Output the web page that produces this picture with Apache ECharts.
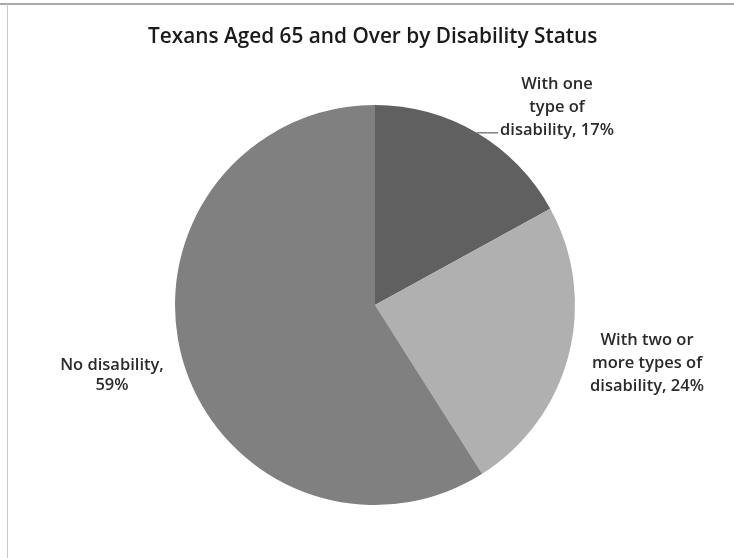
<!DOCTYPE html>
<html>
<head>
<meta charset="utf-8">
<script src="https://cdn.jsdelivr.net/npm/echarts@6/dist/echarts.min.js"></script>
<style>
html,body{margin:0;padding:0;background:#fff;}
#chart{width:734px;height:558px;}
</style>
</head>
<body>
<div id="chart"></div>
<script>
const titleText = 'Texans Aged 65 and Over by Disability Status';
const categories = ['With one type of disability', 'With two or more types of disability', 'No disability'];
const labelTexts = ['With one\ntype of\ndisability, 17%', 'With two or\nmore types of\ndisability, 24%', 'No disability,\n59%'];
const values = [17, 24, 59];
const colors = ['#606060', '#b0b0b0', '#808080'];

const labelSpots = [
  {x: 557, y: 107, lh: 23},
  {x: 647, y: 363, lh: 23},
  {x: 112, y: 375, lh: 20}
];

const chart = echarts.init(document.getElementById('chart'));
chart.setOption({
  backgroundColor: '#ffffff',
  animation: false,
  title: {
    text: titleText,
    left: 143,
    top: 22,
    textStyle: {fontFamily: 'Open Sans', fontSize: 20.8, fontWeight: 600, color: '#1a1a1a'}
  },
  graphic: [
    {type: 'line', shape: {x1: 0, y1: 4, x2: 734, y2: 4}, style: {stroke: '#a8a8a8', lineWidth: 2}},
    {type: 'line', shape: {x1: 7.5, y1: 4, x2: 7.5, y2: 558}, style: {stroke: '#c8c8c8', lineWidth: 1}}
  ],
  series: [{
    type: 'pie',
    center: [375, 305],
    radius: [0, 200],
    startAngle: 90,
    clockwise: true,
    data: categories.map((c, i) => ({
      name: c,
      value: values[i],
      itemStyle: {color: colors[i]},
      label: {formatter: labelTexts[i], lineHeight: labelSpots[i].lh},
      labelLine: {show: i === 0, length: 5, length2: 5, lineStyle: {color: '#404040', width: 1}}
    })),
    itemStyle: {borderWidth: 0},
    label: {
      show: true,
      position: 'outside',
      fontFamily: 'Open Sans',
      fontSize: 16.5,
      fontWeight: 600,
      color: '#2a2a2a',
      align: 'center'
    },
    labelLayout: function (params) {
      const s = labelSpots[params.dataIndex];
      const out = {x: s.x, y: s.y, align: 'center', verticalAlign: 'middle'};
      if (params.labelLinePoints && params.dataIndex === 0) {
        const p0 = params.labelLinePoints[0];
        const left = s.x - params.labelRect.width / 2 - 2;
        out.labelLinePoints = [[p0[0], p0[1]], [(p0[0] + left) / 2, p0[1]], [left, p0[1]]];
      }
      return out;
    }
  }]
});
</script>
</body>
</html>
